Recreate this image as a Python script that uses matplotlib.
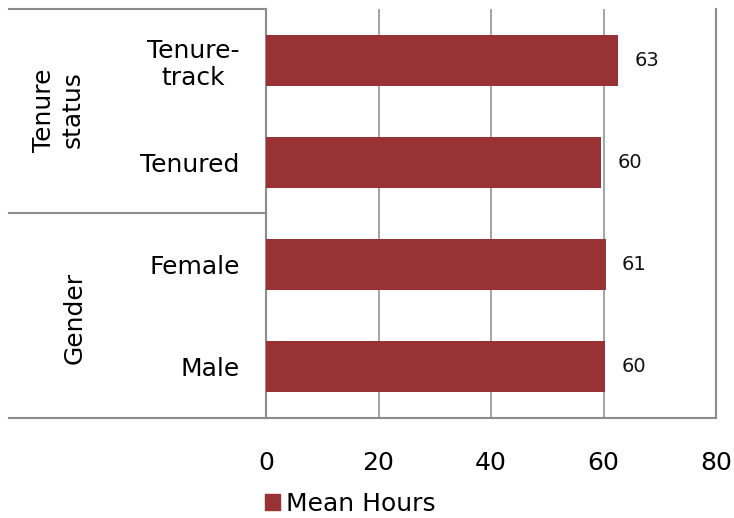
import matplotlib.pyplot as plt
from matplotlib.lines import Line2D
from matplotlib.patches import Patch

categories = ["Tenure-\ntrack", "Tenured", "Female", "Male"]
mean_hours = [62.6, 59.6, 60.4, 60.3]
value_labels = ["63", "60", "61", "60"]
groups = ["Tenure\nstatus", "Gender"]
xticks = [0, 20, 40, 60, 80]

bar_color = "#983234"
line_color = "#8c8c8c"

fig = plt.figure(figsize=(7.34, 5.18), dpi=100)
ax = fig.add_axes([266 / 734, 100 / 518, 450 / 734, 409 / 518])

ypos = list(range(len(categories)))[::-1]
ax.barh(ypos, mean_hours, height=0.5, color=bar_color, zorder=3)
ax.set_xlim(0, 80)
ax.set_ylim(-0.5, len(categories) - 0.5)

for y, v, lab in zip(ypos, mean_hours, value_labels):
    ax.text(v + 2.85, y, lab, va="center", ha="left", fontsize=14, color="#111111")

ax.set_xticks(xticks)
ax.set_xticklabels([str(t) for t in xticks], fontsize=18)
ax.tick_params(axis="x", length=0, pad=24)
ax.set_yticks(ypos)
ax.set_yticklabels(categories, fontsize=18, multialignment="center")
ax.tick_params(axis="y", length=0, pad=19)

ax.grid(axis="x", color=line_color, linewidth=1.1, zorder=0)
ax.spines["top"].set_visible(False)
for s in ["left", "right", "bottom"]:
    ax.spines[s].set_color(line_color)
    ax.spines[s].set_linewidth(1.5)

# group separator lines in the label area
x0 = 9 / 734
x1 = 266 / 734
for yy in [509 / 518, 305 / 518, 100 / 518]:
    fig.add_artist(Line2D([x0, x1], [yy, yy], color=line_color, linewidth=1.5,
                          transform=fig.transFigure))

fig.text(58 / 734, 1 - 110 / 518, groups[0], rotation=90, ha="center", va="center",
         fontsize=18, multialignment="center", linespacing=1.25)
fig.text(75 / 734, 1 - 318 / 518, groups[1], rotation=90, ha="center", va="center",
         fontsize=18)

fig.legend(handles=[Patch(color=bar_color, label="Mean Hours")],
           loc="center left", bbox_to_anchor=(252 / 734, 1 - 504 / 518),
           frameon=False, fontsize=18, handlelength=0.6, handleheight=0.6,
           handletextpad=0.25, borderpad=0)

fig.savefig("out.png", dpi=100)
